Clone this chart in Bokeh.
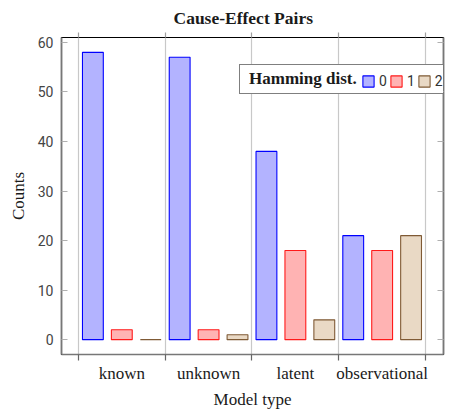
from bokeh.plotting import figure
from bokeh.models import Range1d, FixedTicker, LinearAxis, Legend, LegendItem, ColumnDataSource
from bokeh.transform import dodge
from bokeh.embed import file_html
from bokeh.resources import INLINE

categories = ["known", "unknown", "latent", "observational"]
hamming_labels = ["0", "1", "2"]
counts_0 = [58, 57, 38, 21]
counts_1 = [2, 2, 18, 18]
counts_2 = [0, 1, 4, 21]
y_ticks = [0, 10, 20, 30, 40, 50, 60]
legend_title = "Hamming dist."

positions = list(range(len(categories)))
boundaries = [i - 0.5 for i in range(len(categories) + 1)]
source = ColumnDataSource(dict(x=positions, c0=counts_0, c1=counts_1, c2=counts_2))

p = figure(width=469, height=411, output_backend="svg", toolbar_location=None,
           x_range=Range1d(-0.695, 3.707), y_range=Range1d(-3, 61),
           title="Cause-Effect Pairs",
           min_border_left=61, min_border_right=26, min_border_top=37, min_border_bottom=54)

fills = ["#b3b3ff", "#ffb3b3", "#e9d9c5"]
lines = ["#0000ff", "#ff1a1a", "#7f5a35"]
offsets = [-1 / 3, 0, 1 / 3]
renderers = []
for col, off, fc, lc in zip(["c0", "c1", "c2"], offsets, fills, lines):
    r = p.vbar(x=dodge("x", off), top=col, bottom=0, width=0.24, source=source,
               fill_color=fc, line_color=lc, line_width=1.1)
    renderers.append(r)

p.outline_line_color = "black"
p.outline_line_width = 1.2

# x axis
xa = p.xaxis[0]
xa.ticker = FixedTicker(ticks=positions, minor_ticks=boundaries)
xa.major_label_overrides = {i: c for i, c in zip(positions, categories)}
xa.major_tick_line_color = None
xa.major_tick_out = 0
xa.major_tick_in = 0
xa.minor_tick_out = 6
xa.minor_tick_in = 0
xa.minor_tick_line_color = "#666666"
xa.minor_tick_line_width = 1.2
xa.axis_line_color = "#777777"
xa.axis_line_width = 1.6
xa.major_label_standoff = 3
xa.major_label_text_font = "Liberation Serif"
xa.major_label_text_font_size = "17px"
xa.major_label_text_color = "#1a1a1a"
xa.axis_label = "Model type"
xa.axis_label_text_font = "Liberation Serif"
xa.axis_label_text_font_size = "17px"
xa.axis_label_text_font_style = "normal"
xa.axis_label_text_color = "#1a1a1a"
xa.axis_label_standoff = 4

p.xgrid.grid_line_color = None
p.xgrid.minor_grid_line_color = "#c8c8c8"
p.xgrid.minor_grid_line_width = 1.2
p.ygrid.grid_line_color = None

# y axis
ya = p.yaxis[0]
ya.ticker = FixedTicker(ticks=y_ticks, minor_ticks=[])
ya.major_tick_in = 6
ya.major_tick_out = 0
ya.major_tick_line_color = "#b0b0b0"
ya.major_tick_line_width = 1.2
ya.minor_tick_line_color = None
ya.axis_line_color = "#777777"
ya.axis_line_width = 1.6
ya.major_label_text_font = "Roboto"
ya.major_label_text_font_size = "14px"
ya.major_label_text_color = "#444444"
ya.major_label_standoff = 8
ya.axis_label = "Counts"
ya.axis_label_text_font = "Liberation Serif"
ya.axis_label_text_font_size = "17px"
ya.axis_label_text_font_style = "normal"
ya.axis_label_text_color = "#1a1a1a"
ya.axis_label_standoff = 7

# mirrored right axis (ticks only)
ra = LinearAxis(ticker=FixedTicker(ticks=y_ticks, minor_ticks=[]),
                major_tick_in=6, major_tick_out=0, major_tick_line_color="#b0b0b0",
                major_tick_line_width=1.2,
                minor_tick_line_color=None, axis_line_color="#777777", axis_line_width=1.6,
                major_label_overrides={t: "" for t in y_ticks}, major_label_standoff=0)
p.add_layout(ra, "right")

# top ticks
ta = LinearAxis(ticker=FixedTicker(ticks=boundaries, minor_ticks=[]),
                major_tick_in=0, major_tick_out=5, major_tick_line_color="#a0a0a0",
                major_tick_line_width=1.2,
                minor_tick_line_color=None, axis_line_color=None,
                major_label_overrides={t: "" for t in boundaries}, major_label_standoff=0)
p.add_layout(ta, "above")

# title
p.title.text_font = "Liberation Serif"
p.title.text_font_style = "bold"
p.title.text_font_size = "17.5px"
p.title.align = "left"
p.title.offset = 112
p.title.text_color = "#1a1a1a"

# legend box with its title
dummy = p.vbar(x=[], top=[], width=0.24, fill_alpha=0, line_alpha=0)
legend_a = Legend(items=[LegendItem(label=legend_title, renderers=[dummy])],
                  location=(178, 260), orientation="horizontal",
                  glyph_width=0, glyph_height=16, label_standoff=5, label_width=212,
                  padding=4, margin=0, spacing=0,
                  border_line_color="black", border_line_width=1.2,
                  background_fill_color="white", background_fill_alpha=1.0)
legend_a.label_text_font = "Liberation Serif"
legend_a.label_text_font_style = "bold"
legend_a.label_text_font_size = "17px"
legend_a.label_text_color = "#1a1a1a"
p.add_layout(legend_a)

# legend entries
legend_b = Legend(items=[LegendItem(label=l, renderers=[r]) for l, r in zip(hamming_labels, renderers)],
                  location=(300, 265), orientation="horizontal",
                  glyph_width=14, glyph_height=14, label_standoff=4, label_width=0,
                  padding=0, margin=0, spacing=2,
                  border_line_color=None, background_fill_alpha=0.0)
legend_b.label_text_font = "Roboto"
legend_b.label_text_font_size = "14px"
legend_b.label_text_color = "#333333"
p.add_layout(legend_b)

open("out.html", "w").write(file_html(p, INLINE))
